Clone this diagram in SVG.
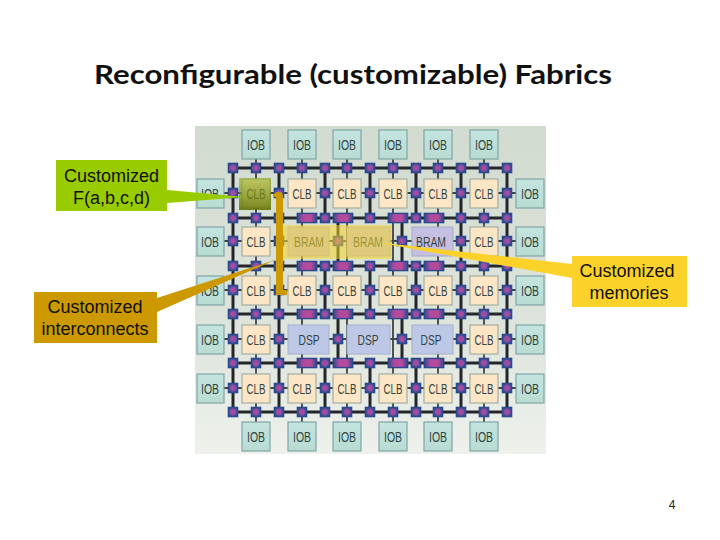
<svg xmlns="http://www.w3.org/2000/svg" width="720" height="540" viewBox="0 0 720 540">
<style>
.iob{fill:url(#gi);stroke:#7fa6a6;stroke-width:1.2}
.clb{fill:#fde6c6;stroke:#a3ada0;stroke-width:1.2}
.bram{fill:#c5bfe2;stroke:#a9a7c8;stroke-width:1}
.dsp{fill:#bcc8e6;stroke:#a4b0cc;stroke-width:1}
.bt{font:15px "Liberation Sans",sans-serif;fill:#33453f;text-anchor:middle}
.w{stroke:#23262a;stroke-width:3;fill:none}
.st{stroke:#3c4444;stroke-width:1.8;fill:none}
.lbl{font:18px "Liberation Sans",Arial,sans-serif;fill:#111;text-anchor:middle}
</style>
<defs>
<linearGradient id="bg" x1="0" y1="0" x2="0" y2="1"><stop offset="0" stop-color="#d2dbd0"/><stop offset=".6" stop-color="#dde4dc"/><stop offset="1" stop-color="#eef1ec"/></linearGradient>
<linearGradient id="gi" x1="0" y1="0" x2="0" y2="1"><stop offset="0" stop-color="#c4e4e0"/><stop offset="1" stop-color="#b8dcd2"/></linearGradient>
<radialGradient id="gs"><stop offset="0" stop-color="#b84a9c"/><stop offset=".55" stop-color="#8e4ea4"/><stop offset="1" stop-color="#2f4c92"/></radialGradient>
<linearGradient id="gg" x1="0" y1="0" x2="0" y2="1"><stop offset="0" stop-color="#94b020" stop-opacity=".6"/><stop offset="1" stop-color="#5e7000" stop-opacity=".85"/></linearGradient>
<linearGradient id="gl"><stop offset="0" stop-color="#2c4a90"/><stop offset=".3" stop-color="#b04a9e"/><stop offset=".7" stop-color="#b84a9c"/><stop offset="1" stop-color="#2c4a90"/></linearGradient>
<g id="s"><rect x="-4.6" y="-4.6" width="9.2" height="9.2" fill="url(#gs)" stroke="#2c4a8e" stroke-width="1.4"/></g>
<g id="l"><rect x="-9.7" y="-4.6" width="19.4" height="9.2" fill="url(#gl)" stroke="#28498e" stroke-width="1.4"/></g>
</defs>
<rect width="720" height="540" fill="#fff"/>
<text id="title" x="94" y="84" font-family="Lato,'Liberation Sans',sans-serif" font-weight="700" font-size="27.500" textLength="518" lengthAdjust="spacingAndGlyphs" fill="#111">Reconfigurable (customizable) Fabrics</text>
<rect id="fabric-bg" x="195" y="126" width="351" height="328" fill="url(#bg)"/>
<g id="connectors">
<path class="st" d="M210 193H530M210 241H530M210 290H530M210 339H530M210 388H530M256 144V436M302 144V436M347 144V436M393 144V436M438 144V436M484 144V436"/>
<path class="w" d="M233 168H507M233 218H507M233 266H507M233 314H507M233 363H507M233 412H507M233 168V412M279 168V412M461 168V412M507 168V412M325 168V218M325 266V314M325 363V412M370 168V218M370 266V314M370 363V412M416 168V218M416 266V314M416 363V412M338 218V266M338 314V363M402 218V266M402 314V363"/>
</g>
<g id="switches">
<use href="#s" x="233" y="168"/><use href="#s" x="256" y="168"/><use href="#s" x="279" y="168"/><use href="#s" x="302" y="168"/><use href="#s" x="325" y="168"/><use href="#s" x="347" y="168"/><use href="#s" x="370" y="168"/><use href="#s" x="393" y="168"/><use href="#s" x="416" y="168"/><use href="#s" x="438" y="168"/><use href="#s" x="461" y="168"/><use href="#s" x="484" y="168"/><use href="#s" x="507" y="168"/>
<use href="#s" x="233" y="412"/><use href="#s" x="256" y="412"/><use href="#s" x="279" y="412"/><use href="#s" x="302" y="412"/><use href="#s" x="325" y="412"/><use href="#s" x="347" y="412"/><use href="#s" x="370" y="412"/><use href="#s" x="393" y="412"/><use href="#s" x="416" y="412"/><use href="#s" x="438" y="412"/><use href="#s" x="461" y="412"/><use href="#s" x="484" y="412"/><use href="#s" x="507" y="412"/>
<use href="#s" x="233" y="218"/><use href="#s" x="256" y="218"/><use href="#s" x="279" y="218"/><use href="#l" x="307" y="218"/><use href="#s" x="325" y="218"/><use href="#l" x="343" y="218"/><use href="#s" x="370" y="218"/><use href="#l" x="398" y="218"/><use href="#s" x="416" y="218"/><use href="#l" x="434" y="218"/><use href="#s" x="461" y="218"/><use href="#s" x="484" y="218"/><use href="#s" x="507" y="218"/>
<use href="#s" x="233" y="266"/><use href="#s" x="256" y="266"/><use href="#s" x="279" y="266"/><use href="#l" x="307" y="266"/><use href="#s" x="325" y="266"/><use href="#l" x="343" y="266"/><use href="#s" x="370" y="266"/><use href="#l" x="398" y="266"/><use href="#s" x="416" y="266"/><use href="#l" x="434" y="266"/><use href="#s" x="461" y="266"/><use href="#s" x="484" y="266"/><use href="#s" x="507" y="266"/>
<use href="#s" x="233" y="314"/><use href="#s" x="256" y="314"/><use href="#s" x="279" y="314"/><use href="#l" x="307" y="314"/><use href="#s" x="325" y="314"/><use href="#l" x="343" y="314"/><use href="#s" x="370" y="314"/><use href="#l" x="398" y="314"/><use href="#s" x="416" y="314"/><use href="#l" x="434" y="314"/><use href="#s" x="461" y="314"/><use href="#s" x="484" y="314"/><use href="#s" x="507" y="314"/>
<use href="#s" x="233" y="363"/><use href="#s" x="256" y="363"/><use href="#s" x="279" y="363"/><use href="#l" x="307" y="363"/><use href="#s" x="325" y="363"/><use href="#l" x="343" y="363"/><use href="#s" x="370" y="363"/><use href="#l" x="398" y="363"/><use href="#s" x="416" y="363"/><use href="#l" x="434" y="363"/><use href="#s" x="461" y="363"/><use href="#s" x="484" y="363"/><use href="#s" x="507" y="363"/>
<use href="#s" x="233" y="193"/><use href="#s" x="279" y="193"/><use href="#s" x="325" y="193"/><use href="#s" x="370" y="193"/><use href="#s" x="416" y="193"/><use href="#s" x="461" y="193"/><use href="#s" x="507" y="193"/>
<use href="#s" x="233" y="290"/><use href="#s" x="279" y="290"/><use href="#s" x="325" y="290"/><use href="#s" x="370" y="290"/><use href="#s" x="416" y="290"/><use href="#s" x="461" y="290"/><use href="#s" x="507" y="290"/>
<use href="#s" x="233" y="388"/><use href="#s" x="279" y="388"/><use href="#s" x="325" y="388"/><use href="#s" x="370" y="388"/><use href="#s" x="416" y="388"/><use href="#s" x="461" y="388"/><use href="#s" x="507" y="388"/>
<use href="#s" x="233" y="241"/><use href="#s" x="279" y="241"/><use href="#s" x="338" y="241"/><use href="#s" x="402" y="241"/><use href="#s" x="461" y="241"/><use href="#s" x="507" y="241"/>
<use href="#s" x="233" y="339"/><use href="#s" x="279" y="339"/><use href="#s" x="338" y="339"/><use href="#s" x="402" y="339"/><use href="#s" x="461" y="339"/><use href="#s" x="507" y="339"/>
</g>
<g id="iob-t1"><rect class="iob" x="242" y="130" width="28" height="29"/><text class="bt" x="256" y="150" textLength="18" lengthAdjust="spacingAndGlyphs">IOB</text></g>
<g id="iob-t2"><rect class="iob" x="288" y="130" width="28" height="29"/><text class="bt" x="302" y="150" textLength="18" lengthAdjust="spacingAndGlyphs">IOB</text></g>
<g id="iob-t3"><rect class="iob" x="333" y="130" width="28" height="29"/><text class="bt" x="347" y="150" textLength="18" lengthAdjust="spacingAndGlyphs">IOB</text></g>
<g id="iob-t4"><rect class="iob" x="379" y="130" width="28" height="29"/><text class="bt" x="393" y="150" textLength="18" lengthAdjust="spacingAndGlyphs">IOB</text></g>
<g id="iob-t5"><rect class="iob" x="424" y="130" width="28" height="29"/><text class="bt" x="438" y="150" textLength="18" lengthAdjust="spacingAndGlyphs">IOB</text></g>
<g id="iob-t6"><rect class="iob" x="470" y="130" width="28" height="29"/><text class="bt" x="484" y="150" textLength="18" lengthAdjust="spacingAndGlyphs">IOB</text></g>
<g id="iob-b1"><rect class="iob" x="242" y="422" width="28" height="29"/><text class="bt" x="256" y="442" textLength="18" lengthAdjust="spacingAndGlyphs">IOB</text></g>
<g id="iob-b2"><rect class="iob" x="288" y="422" width="28" height="29"/><text class="bt" x="302" y="442" textLength="18" lengthAdjust="spacingAndGlyphs">IOB</text></g>
<g id="iob-b3"><rect class="iob" x="333" y="422" width="28" height="29"/><text class="bt" x="347" y="442" textLength="18" lengthAdjust="spacingAndGlyphs">IOB</text></g>
<g id="iob-b4"><rect class="iob" x="379" y="422" width="28" height="29"/><text class="bt" x="393" y="442" textLength="18" lengthAdjust="spacingAndGlyphs">IOB</text></g>
<g id="iob-b5"><rect class="iob" x="424" y="422" width="28" height="29"/><text class="bt" x="438" y="442" textLength="18" lengthAdjust="spacingAndGlyphs">IOB</text></g>
<g id="iob-b6"><rect class="iob" x="470" y="422" width="28" height="29"/><text class="bt" x="484" y="442" textLength="18" lengthAdjust="spacingAndGlyphs">IOB</text></g>
<g id="iob-l1"><rect class="iob" x="197" y="179" width="27" height="29"/><text class="bt" x="210" y="199" textLength="18" lengthAdjust="spacingAndGlyphs">IOB</text></g>
<g id="iob-l2"><rect class="iob" x="197" y="227" width="27" height="29"/><text class="bt" x="210" y="247" textLength="18" lengthAdjust="spacingAndGlyphs">IOB</text></g>
<g id="iob-l3"><rect class="iob" x="197" y="276" width="27" height="29"/><text class="bt" x="210" y="296" textLength="18" lengthAdjust="spacingAndGlyphs">IOB</text></g>
<g id="iob-l4"><rect class="iob" x="197" y="325" width="27" height="29"/><text class="bt" x="210" y="345" textLength="18" lengthAdjust="spacingAndGlyphs">IOB</text></g>
<g id="iob-l5"><rect class="iob" x="197" y="374" width="27" height="29"/><text class="bt" x="210" y="394" textLength="18" lengthAdjust="spacingAndGlyphs">IOB</text></g>
<g id="iob-r1"><rect class="iob" x="516" y="179" width="28" height="29"/><text class="bt" x="530" y="199" textLength="18" lengthAdjust="spacingAndGlyphs">IOB</text></g>
<g id="iob-r2"><rect class="iob" x="516" y="227" width="28" height="29"/><text class="bt" x="530" y="247" textLength="18" lengthAdjust="spacingAndGlyphs">IOB</text></g>
<g id="iob-r3"><rect class="iob" x="516" y="276" width="28" height="29"/><text class="bt" x="530" y="296" textLength="18" lengthAdjust="spacingAndGlyphs">IOB</text></g>
<g id="iob-r4"><rect class="iob" x="516" y="325" width="28" height="29"/><text class="bt" x="530" y="345" textLength="18" lengthAdjust="spacingAndGlyphs">IOB</text></g>
<g id="iob-r5"><rect class="iob" x="516" y="374" width="28" height="29"/><text class="bt" x="530" y="394" textLength="18" lengthAdjust="spacingAndGlyphs">IOB</text></g>
<g id="clb-1-1"><rect class="clb" x="242" y="179" width="28" height="29"/><text class="bt" x="256" y="199" textLength="19" lengthAdjust="spacingAndGlyphs">CLB</text></g>
<g id="clb-1-2"><rect class="clb" x="288" y="179" width="28" height="29"/><text class="bt" x="302" y="199" textLength="19" lengthAdjust="spacingAndGlyphs">CLB</text></g>
<g id="clb-1-3"><rect class="clb" x="333" y="179" width="28" height="29"/><text class="bt" x="347" y="199" textLength="19" lengthAdjust="spacingAndGlyphs">CLB</text></g>
<g id="clb-1-4"><rect class="clb" x="379" y="179" width="28" height="29"/><text class="bt" x="393" y="199" textLength="19" lengthAdjust="spacingAndGlyphs">CLB</text></g>
<g id="clb-1-5"><rect class="clb" x="424" y="179" width="28" height="29"/><text class="bt" x="438" y="199" textLength="19" lengthAdjust="spacingAndGlyphs">CLB</text></g>
<g id="clb-1-6"><rect class="clb" x="470" y="179" width="28" height="29"/><text class="bt" x="484" y="199" textLength="19" lengthAdjust="spacingAndGlyphs">CLB</text></g>
<g id="clb-2-1"><rect class="clb" x="242" y="227" width="28" height="29"/><text class="bt" x="256" y="247" textLength="19" lengthAdjust="spacingAndGlyphs">CLB</text></g>
<g id="bram-1"><rect class="bram" x="288" y="227" width="41" height="29"/><text class="bt" x="309" y="247" textLength="30" lengthAdjust="spacingAndGlyphs">BRAM</text></g>
<g id="bram-2"><rect class="bram" x="347" y="227" width="43" height="29"/><text class="bt" x="368" y="247" textLength="30" lengthAdjust="spacingAndGlyphs">BRAM</text></g>
<g id="bram-3"><rect class="bram" x="412" y="227" width="41" height="29"/><text class="bt" x="431" y="247" textLength="30" lengthAdjust="spacingAndGlyphs">BRAM</text></g>
<g id="clb-2-6"><rect class="clb" x="470" y="227" width="28" height="29"/><text class="bt" x="484" y="247" textLength="19" lengthAdjust="spacingAndGlyphs">CLB</text></g>
<g id="clb-3-1"><rect class="clb" x="242" y="276" width="28" height="29"/><text class="bt" x="256" y="296" textLength="19" lengthAdjust="spacingAndGlyphs">CLB</text></g>
<g id="clb-3-2"><rect class="clb" x="288" y="276" width="28" height="29"/><text class="bt" x="302" y="296" textLength="19" lengthAdjust="spacingAndGlyphs">CLB</text></g>
<g id="clb-3-3"><rect class="clb" x="333" y="276" width="28" height="29"/><text class="bt" x="347" y="296" textLength="19" lengthAdjust="spacingAndGlyphs">CLB</text></g>
<g id="clb-3-4"><rect class="clb" x="379" y="276" width="28" height="29"/><text class="bt" x="393" y="296" textLength="19" lengthAdjust="spacingAndGlyphs">CLB</text></g>
<g id="clb-3-5"><rect class="clb" x="424" y="276" width="28" height="29"/><text class="bt" x="438" y="296" textLength="19" lengthAdjust="spacingAndGlyphs">CLB</text></g>
<g id="clb-3-6"><rect class="clb" x="470" y="276" width="28" height="29"/><text class="bt" x="484" y="296" textLength="19" lengthAdjust="spacingAndGlyphs">CLB</text></g>
<g id="clb-4-1"><rect class="clb" x="242" y="325" width="28" height="29"/><text class="bt" x="256" y="345" textLength="19" lengthAdjust="spacingAndGlyphs">CLB</text></g>
<g id="dsp-1"><rect class="dsp" x="288" y="325" width="41" height="29"/><text class="bt" x="309" y="345" textLength="21" lengthAdjust="spacingAndGlyphs">DSP</text></g>
<g id="dsp-2"><rect class="dsp" x="347" y="325" width="43" height="29"/><text class="bt" x="368" y="345" textLength="21" lengthAdjust="spacingAndGlyphs">DSP</text></g>
<g id="dsp-3"><rect class="dsp" x="412" y="325" width="41" height="29"/><text class="bt" x="431" y="345" textLength="21" lengthAdjust="spacingAndGlyphs">DSP</text></g>
<g id="clb-4-6"><rect class="clb" x="470" y="325" width="28" height="29"/><text class="bt" x="484" y="345" textLength="19" lengthAdjust="spacingAndGlyphs">CLB</text></g>
<g id="clb-5-1"><rect class="clb" x="242" y="374" width="28" height="29"/><text class="bt" x="256" y="394" textLength="19" lengthAdjust="spacingAndGlyphs">CLB</text></g>
<g id="clb-5-2"><rect class="clb" x="288" y="374" width="28" height="29"/><text class="bt" x="302" y="394" textLength="19" lengthAdjust="spacingAndGlyphs">CLB</text></g>
<g id="clb-5-3"><rect class="clb" x="333" y="374" width="28" height="29"/><text class="bt" x="347" y="394" textLength="19" lengthAdjust="spacingAndGlyphs">CLB</text></g>
<g id="clb-5-4"><rect class="clb" x="379" y="374" width="28" height="29"/><text class="bt" x="393" y="394" textLength="19" lengthAdjust="spacingAndGlyphs">CLB</text></g>
<g id="clb-5-5"><rect class="clb" x="424" y="374" width="28" height="29"/><text class="bt" x="438" y="394" textLength="19" lengthAdjust="spacingAndGlyphs">CLB</text></g>
<g id="clb-5-6"><rect class="clb" x="470" y="374" width="28" height="29"/><text class="bt" x="484" y="394" textLength="19" lengthAdjust="spacingAndGlyphs">CLB</text></g>
<rect id="bram-highlight" x="283" y="225" width="109" height="34" fill="#f5d62a" opacity=".55"/>
<rect id="clb-highlight" x="239" y="178" width="32" height="32" fill="url(#gg)"/>
<g id="callout-function">
<path d="M167 190L245 197L167 203Z" fill="#99cc00"/>
<rect x="56" y="160" width="111" height="51" fill="#99cc00"/>
<text class="lbl" x="111.500" y="182">Customized</text>
<text class="lbl" x="111.500" y="204">F(a,b,c,d)</text>
</g>
<g id="callout-interconnects">
<path d="M157 298L275 260L157 312Z" fill="#cc9900"/>
<path d="M273 197Q273 192 279 192Q283 192 283 197V290H287V295H276V197Z" fill="#cc9900"/>
<rect x="34" y="292" width="123" height="51" fill="#cc9900"/>
<text class="lbl" x="95" y="313">Customized</text>
<text class="lbl" x="95" y="335">interconnects</text>
</g>
<g id="callout-memories">
<path d="M375 242L572 264L572 278Z" fill="#fbd22a"/>
<rect x="572" y="256" width="115" height="51" fill="#fbd22a"/>
<text class="lbl" x="627" y="277">Customized</text>
<text class="lbl" x="629" y="299">memories</text>
</g>
<text id="page" x="672" y="509" font-family="'Liberation Sans',sans-serif" font-size="12" text-anchor="middle" fill="#222">4</text>
</svg>
